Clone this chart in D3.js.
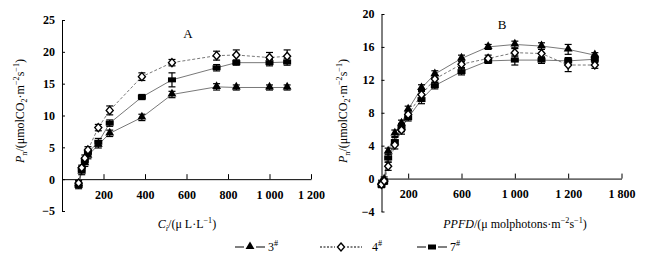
<!DOCTYPE html>
<html>
<head>
<meta charset="utf-8">
<script src="https://cdn.jsdelivr.net/npm/d3@7"></script>
<style>
  body { margin: 0; background: #fff; }
  svg { display: block; font-family: "Liberation Serif", "Times New Roman", serif; }
</style>
</head>
<body>
<div id="chart"></div>
<script>
// panel A: CO2 response
var ciA = [80, 95, 110, 125, 175, 230, 385, 530, 745, 840, 1000, 1085];
var pnA3 = [-0.8, 1.2, 2.5, 3.7, 5.4, 7.2, 9.7, 13.3, 14.5, 14.4, 14.4, 14.4];
var pnA4 = [-0.6, 1.8, 3.3, 4.6, 8.1, 10.8, 16.1, 18.3, 19.4, 19.5, 19.1, 19.3];
var pnA7 = [-1.0, 1.5, 2.9, 4.2, 5.8, 8.8, 12.9, 15.6, 17.5, 18.3, 18.3, 18.4];
var seA3 = [0.5, 0.5, 0.5, 0.5, 0.5, 0.5, 0.5, 0.5, 0.5, 0.4, 0.4, 0.4];
var seA4 = [0.4, 0.4, 0.5, 0.5, 0.5, 0.7, 0.6, 0.5, 0.7, 0.8, 0.8, 1.0];
var seA7 = [0.5, 0.5, 0.5, 0.5, 0.6, 0.5, 0.4, 1.1, 0.5, 0.4, 0.5, 0.5];

// panel B: light response
var ppfdB = [0, 20, 50, 100, 150, 200, 300, 400, 600, 800, 1000, 1200, 1400, 1600];
var pnB3 = [-0.5, -0.1, 3.3, 5.5, 6.7, 8.4, 11.0, 12.7, 14.6, 16.0, 16.3, 16.1, 15.7, 15.0];
var pnB4 = [-0.7, -0.3, 1.5, 4.1, 5.9, 7.8, 10.2, 12.1, 13.9, 14.6, 15.3, 15.2, 13.8, 13.8];
var pnB7 = [-0.8, -0.4, 2.5, 4.5, 6.2, 7.4, 9.6, 11.3, 13.0, 14.3, 14.4, 14.4, 14.3, 14.5];
var seB3 = [0.3, 0.3, 0.4, 0.4, 0.4, 0.4, 0.4, 0.4, 0.4, 0.3, 0.4, 0.4, 0.6, 0.3];
var seB4 = [0.3, 0.3, 0.5, 0.5, 0.5, 0.4, 0.5, 0.4, 0.4, 0.4, 0.5, 0.5, 0.8, 0.4];
var seB7 = [0.3, 0.3, 0.5, 0.5, 0.5, 0.4, 0.5, 0.4, 0.4, 0.3, 0.6, 0.4, 0.4, 0.4];

var yTicksA = [-5, 0, 5, 10, 15, 20, 25];
var xTicksA = [200, 400, 600, 800, 1000, 1200];
var xLabelsA = ["200", "400", "600", "800", "1 000", "1 200"];
var yTicksB = [-4, 0, 4, 8, 12, 16, 20];
var xTicksB = [200, 600, 1000, 1400, 1800];
var xLabelsB = ["200", "600", "1 000", "1 200", "1 800"];

var seriesNames = ["3", "4", "7"];

var svg = d3.select("#chart").append("svg")
  .attr("width", 664)
  .attr("height", 267);

// text with italic / sub / super pieces
function richText(sel, parts, size) {
  var shift = 0;
  parts.forEach(function (p) {
    var ts = sel.append("tspan").text(p.t);
    var target = 0;
    if (p.s === "sub") target = 3;
    if (p.s === "sup") target = -5;
    ts.attr("dy", target - shift);
    shift = target;
    if (p.s === "sub" || p.s === "sup") ts.attr("font-size", size * 0.68);
    if (p.i) ts.attr("font-style", "italic");
  });
}

function marker(g, type, x, y) {
  if (type === "tri") {
    g.append("path")
      .attr("d", d3.symbol().type(d3.symbolTriangle).size(34)())
      .attr("transform", "translate(" + x + "," + (y - 0.5) + ")")
      .attr("fill", "#000");
  } else if (type === "dia") {
    g.append("path")
      .attr("d", "M0,-4L3.5,0L0,4L-3.5,0Z")
      .attr("transform", "translate(" + x + "," + y + ")")
      .attr("fill", "#fff")
      .attr("stroke", "#000")
      .attr("stroke-width", 1.4);
  } else {
    g.append("rect")
      .attr("x", x - 4).attr("y", y - 2.5)
      .attr("width", 8).attr("height", 5)
      .attr("fill", "#000");
  }
}

function panel(cfg) {
  var g = svg.append("g");
  var x = d3.scaleLinear().domain(cfg.xDomain).range(cfg.xRange);
  var y = d3.scaleLinear().domain(cfg.yDomain).range(cfg.yRange);

  var yAxis = d3.axisLeft(y)
    .tickValues(cfg.yTicks)
    .tickFormat(function (d) { return d < 0 ? "\u2212" + Math.abs(d) : d; })
    .tickSizeInner(-3)
    .tickSizeOuter(0)
    .tickPadding(7);
  var xAxis = d3.axisBottom(x)
    .tickValues(cfg.xTicks)
    .tickFormat(function (d, i) { return cfg.xLabels[i]; })
    .tickSizeInner(-5)
    .tickSizeOuter(0)
    .tickPadding(11);

  var ya = g.append("g")
    .attr("transform", "translate(" + x(0) + ",0)")
    .call(yAxis);
  var xa = g.append("g")
    .attr("transform", "translate(0," + y(0) + ")")
    .call(xAxis);
  [ya, xa].forEach(function (a) {
    a.selectAll("path, line").attr("stroke", "#000").attr("stroke-width", 1);
    a.selectAll("text")
      .attr("font-family", "Liberation Serif, serif")
      .attr("font-size", 12)
      .attr("font-weight", "bold")
      .attr("fill", "#000");
  });

  var line = d3.line()
    .x(function (d) { return x(d[0]); })
    .y(function (d) { return y(d[1]); });

  var order = [2, 0, 1];
  var types = ["tri", "dia", "sq"];
  order.forEach(function (k) {
    var pts = cfg.xs.map(function (v, i) { return [v, cfg.ys[k][i], cfg.se[k][i]]; });
    g.append("path")
      .datum(pts)
      .attr("d", line)
      .attr("fill", "none")
      .attr("stroke", "#555")
      .attr("stroke-width", 0.8)
      .attr("stroke-dasharray", k === 1 ? "3,2" : null);
  });
  order.forEach(function (k) {
    cfg.xs.forEach(function (v, i) {
      var cx = x(v), m = cfg.ys[k][i], s = cfg.se[k][i];
      var y1 = y(m + s), y2 = y(m - s);
      g.append("line").attr("x1", cx).attr("x2", cx).attr("y1", y1).attr("y2", y2)
        .attr("stroke", "#000").attr("stroke-width", 1.2);
      [y1, y2].forEach(function (yy) {
        g.append("line").attr("x1", cx - 3.5).attr("x2", cx + 3.5).attr("y1", yy).attr("y2", yy)
          .attr("stroke", "#000").attr("stroke-width", 1.2);
      });
    });
    cfg.xs.forEach(function (v, i) {
      marker(g, types[k], x(v), y(cfg.ys[k][i]));
    });
  });

  g.append("text")
    .attr("x", cfg.letter[1]).attr("y", cfg.letter[2])
    .attr("text-anchor", "middle")
    .attr("font-size", 13)
    .text(cfg.letter[0]);

  var yt = g.append("text")
    .attr("transform", "translate(" + cfg.yTitlePos[0] + "," + cfg.yTitlePos[1] + ") rotate(-90)")
    .attr("text-anchor", "middle")
    .attr("font-size", 12);
  richText(yt, [
    { t: "P", i: true }, { t: "n", s: "sub" }, { t: "/(\u03bcmolCO" }, { t: "2", s: "sub" },
    { t: "\u00b7m" }, { t: "\u22122", s: "sup" }, { t: "s" }, { t: "\u22121", s: "sup" }, { t: ")" }
  ], 12);

  var xt = g.append("text")
    .attr("x", cfg.xTitlePos[0]).attr("y", cfg.xTitlePos[1])
    .attr("text-anchor", "middle")
    .attr("font-size", 12);
  richText(xt, cfg.xTitle, 12);
}

panel({
  xDomain: [0, 1200], xRange: [62, 311],
  yDomain: [-5, 25], yRange: [211, 20],
  yTicks: yTicksA, xTicks: xTicksA, xLabels: xLabelsA,
  xs: ciA, ys: [pnA3, pnA4, pnA7], se: [seA3, seA4, seA7],
  letter: ["A", 188, 38],
  yTitlePos: [24, 111],
  xTitlePos: [187, 228],
  xTitle: [{ t: "C", i: true }, { t: "i", s: "sub", i: true }, { t: "/(\u03bc L\u00b7L" }, { t: "\u22121", s: "sup" }, { t: ")" }]
});

panel({
  xDomain: [0, 1800], xRange: [381.5, 621.5],
  yDomain: [-4, 20], yRange: [211.5, 14],
  yTicks: yTicksB, xTicks: xTicksB, xLabels: xLabelsB,
  xs: ppfdB, ys: [pnB3, pnB4, pnB7], se: [seB3, seB4, seB7],
  letter: ["B", 502, 29],
  yTitlePos: [347, 111],
  xTitlePos: [515, 228],
  xTitle: [{ t: "PPFD", i: true }, { t: "/(\u03bc molphotons\u00b7m" }, { t: "\u22122", s: "sup" }, { t: "s" }, { t: "\u22121", s: "sup" }, { t: ")" }]
});

// legend
var legendX = [235, 320, 417];
var legendTextGap = [3, 10, 3];
var legendTypes = ["tri", "dia", "sq"];
var lg = svg.append("g");
seriesNames.forEach(function (name, k) {
  var x0 = legendX[k], yy = 247;
  var w = k === 1 ? 15 : 9;
  lg.append("line").attr("x1", x0).attr("x2", x0 + w).attr("y1", yy).attr("y2", yy)
    .attr("stroke", "#000").attr("stroke-width", 1)
    .attr("stroke-dasharray", k === 1 ? "2,1.5" : null);
  marker(lg, legendTypes[k], x0 + w + 6, yy);
  lg.append("line").attr("x1", x0 + w + 12).attr("x2", x0 + 2 * w + 12).attr("y1", yy).attr("y2", yy)
    .attr("stroke", "#000").attr("stroke-width", 1)
    .attr("stroke-dasharray", k === 1 ? "2,1.5" : null);
  var t = lg.append("text")
    .attr("x", x0 + 2 * w + 12 + legendTextGap[k]).attr("y", yy + 4)
    .attr("font-size", 12);
  richText(t, [{ t: name }, { t: "#", s: "sup" }], 12);
});
</script>
</body>
</html>
